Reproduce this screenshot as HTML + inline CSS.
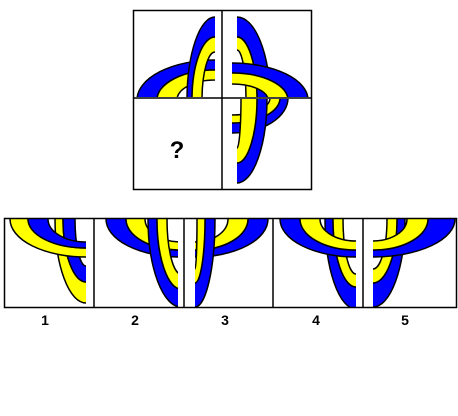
<!DOCTYPE html>
<html><head><meta charset="utf-8"><style>
body{margin:0;background:#fff;width:458px;height:416px;overflow:hidden}
svg{display:block}
text{font-family:"Liberation Sans",sans-serif;font-weight:bold}
</style></head><body>
<svg id="s" width="458" height="416" viewBox="0 0 458 416">
<defs id="defs">
<clipPath id="c1"><rect x="134" y="11" width="87" height="86"/></clipPath>
<clipPath id="c2"><rect x="223" y="11" width="88" height="86"/></clipPath>
<clipPath id="c4"><rect x="223" y="99" width="88" height="90"/></clipPath>
<clipPath id="o1"><rect x="5" y="219" width="81" height="88"/></clipPath>
<clipPath id="o2"><rect x="95" y="219" width="83" height="88"/></clipPath>
<clipPath id="o3"><rect x="195" y="219" width="78" height="88"/></clipPath>
<clipPath id="o4"><rect x="274" y="219" width="82" height="88"/></clipPath>
<clipPath id="o5"><rect x="373" y="219" width="83" height="88"/></clipPath>
</defs>
<g id="g1" clip-path="url(#c1)"></g>
<g id="g2" clip-path="url(#c2)"></g>
<g id="g4" clip-path="url(#c4)"></g>
<g id="p1" clip-path="url(#o1)"></g>
<g id="p2" clip-path="url(#o2)"></g>
<g id="p3" clip-path="url(#o3)"></g>
<g id="p4" clip-path="url(#o4)"></g>
<g id="p5" clip-path="url(#o5)"></g>
<g>
<rect x="133.5" y="10.5" width="178" height="179" fill="none" stroke="#000" stroke-width="1.5"/>
<line x1="222" y1="10" x2="222" y2="190" stroke="#000" stroke-width="1.5"/>
<line x1="133" y1="98" x2="312" y2="98" stroke="#000" stroke-width="1.5"/>
<text x="177" y="158" font-size="24" text-anchor="middle">?</text>
</g>
<g>
<rect x="4.5" y="218.5" width="452" height="89" fill="none" stroke="#000" stroke-width="1.5"/>
<line x1="94" y1="218" x2="94" y2="308" stroke="#000" stroke-width="1.5"/>
<line x1="184" y1="218" x2="184" y2="308" stroke="#000" stroke-width="1.5"/>
<line x1="273" y1="218" x2="273" y2="308" stroke="#000" stroke-width="1.5"/>
<line x1="363" y1="218" x2="363" y2="308" stroke="#000" stroke-width="1.5"/>
<text x="45" y="325" font-size="14" text-anchor="middle">1</text>
<text x="135" y="325" font-size="14" text-anchor="middle">2</text>
<text x="225" y="325" font-size="14" text-anchor="middle">3</text>
<text x="316" y="325" font-size="14" text-anchor="middle">4</text>
<text x="405" y="325" font-size="14" text-anchor="middle">5</text>
</g>
</svg>
<script>
const NS='http://www.w3.org/2000/svg';
const B='#0000ff',Y='#ffff00';
let cid=0;
function ell(cx,cy,rx,ry){return `M${cx-rx},${cy}a${rx},${ry} 0 1,0 ${2*rx},0a${rx},${ry} 0 1,0 ${-2*rx},0Z`;}
function ring(g,cx,cy,rx1,ry1,rx2,ry2,c){
  const p=document.createElementNS(NS,'path');
  
  
  p.setAttribute('d',ell(cx,cy,rx1,ry1)+ell(cx,cy,rx2,ry2));
  p.setAttribute('fill',c);p.setAttribute('fill-rule','evenodd');
  p.setAttribute('stroke','#000');p.setAttribute('stroke-width','1.5');
  g.appendChild(p);
}
function loop(id,cx,cy,o,m,i,co,ci,side){
  const cp=document.createElementNS(NS,'clipPath');
  const n='h'+(cid++);cp.setAttribute('id',n);
  const r=document.createElementNS(NS,'rect');
  r.setAttribute('x',side==='L'?cx-300:cx);r.setAttribute('y',0);
  r.setAttribute('width',300);r.setAttribute('height',416);
  cp.appendChild(r);document.getElementById('defs').appendChild(cp);
  const g=document.createElementNS(NS,'g');
  
  
  g.setAttribute('clip-path','url(#'+n+')');
  document.getElementById(id).appendChild(g);
  ring(g,cx,cy,o[0],o[1],m[0],m[1],co);ring(g,cx,cy,m[0],m[1],i[0],i[1],ci);
}
// top-left: horizontal behind, vertical front
loop('g1',215,100,[78,40],[58,30],[38,20],B,Y,'L');
loop('g1',215,100,[28,83],[23,63],[13,48],B,Y,'L');
// top-right: vertical behind, horizontal front
loop('g2',237,100,[33,83],[20,63],[9,50],B,Y,'R');
loop('g2',232,100,[76,37],[56,27],[36,16],B,Y,'R');
// bottom-right: horizontal behind, vertical front
loop('g4',232,98,[56,35],[48,25],[38,17],B,Y,'R');
loop('g4',237,98,[30,85],[20,65],[4,50],B,Y,'R');
// option 1
loop('p1',86,219,[31,84],[23,63],[11,47],Y,B,'L');
loop('p1',86,219,[76,38],[58,29],[38,23],Y,B,'L');
// option 2
loop('p2',181,219,[75,38],[55,31],[36,23],B,Y,'L');
loop('p2',181,219,[33,88],[24,70],[14,55],B,Y,'L');
// option 3
loop('p3',195,219,[73,38],[53,31],[33,23],B,Y,'R');
loop('p3',195,219,[20,88],[10,64],[2,50],B,Y,'R');
// option 4
loop('p4',356,219,[31,90],[23,68],[13,55],B,Y,'L');
loop('p4',356,219,[76,38],[56,31],[36,22],B,Y,'L');
// option 5
loop('p5',373,219,[32,88],[24,64],[14,50],B,Y,'R');
loop('p5',373,219,[82,38],[55,31],[34,22],B,Y,'R');
</script>
</body></html>
